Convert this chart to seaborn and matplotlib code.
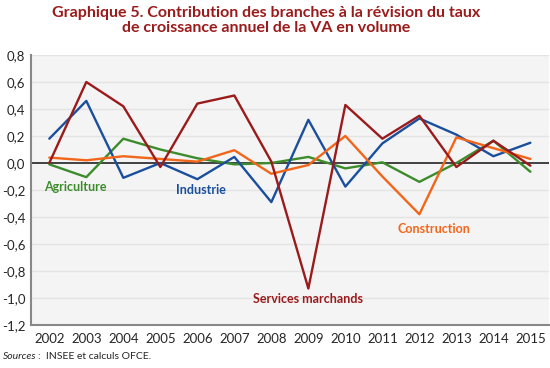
import numpy as np
import pandas as pd
import matplotlib
matplotlib.use("Agg")
import matplotlib.pyplot as plt
import seaborn as sns

# Data
years = ["2002", "2003", "2004", "2005", "2006", "2007", "2008",
         "2009", "2010", "2011", "2012", "2013", "2014", "2015"]
services = [0.00, 0.60, 0.42, -0.03, 0.44, 0.50, 0.01,
            -0.93, 0.43, 0.18, 0.35, -0.03, 0.165, -0.02]
industrie = [0.18, 0.46, -0.11, 0.00, -0.12, 0.045, -0.29,
             0.32, -0.175, 0.145, 0.33, 0.21, 0.05, 0.15]
construction = [0.04, 0.02, 0.05, 0.03, 0.01, 0.095, -0.08,
                -0.015, 0.20, -0.10, -0.38, 0.19, 0.11, 0.03]
agriculture = [-0.01, -0.105, 0.18, 0.10, 0.035, -0.01, 0.00,
               0.045, -0.04, 0.005, -0.14, 0.00, 0.165, -0.065]
yticks = [-1.2, -1.0, -0.8, -0.6, -0.4, -0.2, 0.0, 0.2, 0.4, 0.6, 0.8]

series = {
    "Agriculture": agriculture,
    "Industrie": industrie,
    "Construction": construction,
    "Services marchands": services,
}
colors = {
    "Agriculture": "#3c8c2c",
    "Industrie": "#1a4f9e",
    "Construction": "#f2661a",
    "Services marchands": "#9a1b1b",
}

rows = []
for name, vals in series.items():
    for i, v in enumerate(vals):
        rows.append({"pos": i, "branche": name, "val": v})
df = pd.DataFrame(rows)

sns.set_style("white")
plt.rcParams["font.family"] = ["Lato", "DejaVu Sans"]

fig = plt.figure(figsize=(5.5, 3.68), dpi=100)
ax = fig.add_axes([0.056, 0.117, 0.942, 0.7335])
ax.set_facecolor("#f4f4f4")

# gridlines and zero line
for t in yticks:
    if t != 0:
        ax.axhline(t, color="#e4e4e4", lw=1, zorder=0)
ax.axhline(0, color="#222222", lw=1.2, zorder=1)

sns.lineplot(data=df, x="pos", y="val", hue="branche", palette=colors,
             lw=1.7, ax=ax, legend=False, zorder=3)

ax.set_xlim(-0.5, len(years) - 0.5)
ax.set_ylim(-1.2, 0.8)
ax.set_yticks(yticks)
ax.set_yticklabels([f"{t:.1f}".replace(".", ",") for t in yticks], fontsize=9.5)
ax.tick_params(axis="y", length=0, pad=4)
ax.set_xticks(range(len(years)))
ax.set_xticklabels(years, fontsize=9.5)
ax.tick_params(axis="x", which="major", length=0, pad=6)
ax.set_xticks(np.arange(-0.5, len(years) + 0.5, 1), minor=True)
ax.tick_params(axis="x", which="minor", length=5, color="#888888", direction="out")
ax.set_xlabel("")
ax.set_ylabel("")

for side in ["top", "right"]:
    ax.spines[side].set_visible(False)
for side in ["left", "bottom"]:
    ax.spines[side].set_color("#888888")
    ax.spines[side].set_linewidth(1.5)

# series labels
ax.text(0.7, -0.18, "Agriculture", color=colors["Agriculture"], fontsize=9,
        fontweight="bold", ha="center", va="center")
ax.text(4.1, -0.20, "Industrie", color=colors["Industrie"], fontsize=9,
        fontweight="bold", ha="center", va="center")
ax.text(7.0, -1.01, "Services marchands", color=colors["Services marchands"],
        fontsize=9, fontweight="bold", ha="center", va="center")
ax.text(10.4, -0.49, "Construction", color=colors["Construction"], fontsize=9,
        fontweight="bold", ha="center", va="center")

fig.text(266 / 550, 0.985, "Graphique 5. Contribution des branches à la révision du taux\n"
         "de croissance annuel de la VA en volume", color="#9a1b1b",
         fontsize=11.5, fontweight="bold", ha="center", va="top", linespacing=1.1)
fig.text(0.006, 0.018, "Sources", fontsize=7.5, style="italic", ha="left", va="bottom")
fig.text(0.069, 0.018, ":  INSEE et calculs OFCE.", fontsize=7.5, ha="left", va="bottom")

fig.savefig("out.png", dpi=100)
